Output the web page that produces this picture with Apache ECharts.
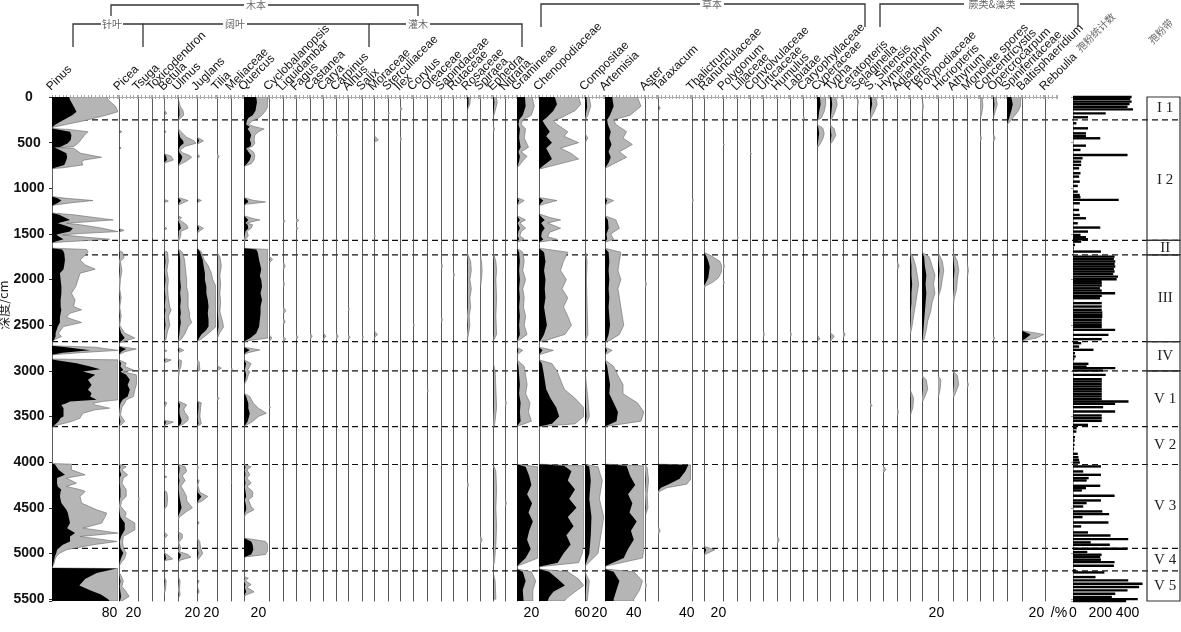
<!DOCTYPE html>
<html><head><meta charset="utf-8">
<script src="https://cdn.jsdelivr.net/npm/echarts/dist/echarts.min.js"></script>
<style>html,body{margin:0;padding:0;background:#fff}#c{width:1181px;height:632px}</style>
</head><body><div id="c"></div>
<script>
// ---------------- DATA ----------------
// each taxon: [depth(cm), percentage (black), exaggerated curve (grey)]
const taxaNames = ['Pinus','Picea','Tsuga','Toxicodendron','Betula','Ulmus','Juglans','Tilia','Meliaceae','Quercus','Cyclobalanopsis','Liquidambar','Fagus','Castanea','Carya','Carpinus','Alnus','Salix','Moraceae','Sterculiaceae','Ilex','Corylus','Oleaceae','Sapindaceae','Rutaceae','Rosaceae','Spiraea','Ephedra','Nitraria','Gramineae','Chenopodiaceae','Compositae','Artemisia','Aster','Taraxacum','Thalictrum','Ranunculaceae','Polygonum','Liliaceae','Convolvulaceae','Urticaceae','Humulus','Labiatae','Caryophyllaceae','Cyperaceae','Typha','Ceratopteris','Selaginella','S. Sinensis','Hymenophyllum','Adiantum','Pteris','Polypodiaceae','Hicriopteris','Athyrium','Monolete spores','Concentricystis','Opercrocarpum','Spiniferitaceae','Baltisphaeridium','Reboulia'];

const pinus = [[0,24,76],[30,25,78],[100,30,88],[161,34,92],[200,28,75],[259,14,45],[300,5,20],[325,1,5],[335,0,0],
[345,0,0],[355,8,22],[380,25,50],[420,27,45],[470,26,40],[507,22,36],[544,12,30],[555,3,8],[562,6,30],[617,20,40],[660,21,69],[690,20,45],[708,19,41],[744,17,43],[775,4,15],[785,0,0],
[1090,0,0],[1110,8,20],[1134,13,57],[1160,8,25],[1182,2,5],[1190,0,0],
[1270,0,0],[1290,10,30],[1346,25,85],[1383,8,20],[1400,15,40],[1437,29,70],[1474,25,92],[1495,12,40],[1510,6,15],[1530,10,40],[1558,16,80],[1585,4,20],[1595,0,0],
[1656,0,0],[1670,14,48],[1693,16,50],[1711,17,49],[1784,18,39],[1839,17,46],[1886,16,60],[1930,11,39],[2003,12,36],[2076,13,33],[2149,13,27],[2222,12,32],[2295,12,30],[2331,13,41],[2368,12,25],[2412,11,20],[2470,11,41],[2514,8,16],[2587,5,9],[2624,5,13],[2660,3,3],[2680,0,0],
[2725,0,0],[2740,20,60],[2775,53,92],[2800,15,40],[2824,0,0],
[2870,0,0],[2879,2,92],[2915,34,92],[2952,53,92],[2981,67,92],[3006,43,92],[3043,60,92],[3098,50,92],[3153,55,92],[3207,50,92],[3244,55,92],[3280,53,92],[3317,62,92],[3335,25,70],[3353,20,57],[3372,13,60],[3408,16,80],[3426,16,60],[3463,16,43],[3499,16,40],[3517,12,39],[3554,9,27],[3590,4,9],[3609,2,2],[3615,0,0],
[4015,0,0],[4021,4,27],[4083,9,27],[4138,18,46],[4174,7,20],[4229,7,34],[4265,8,20],[4302,13,40],[4320,12,46],[4375,11,39],[4448,13,41],[4521,20,62],[4557,22,76],[4594,23,74],[4667,25,69],[4722,21,43],[4776,32,92],[4813,25,39],[4868,25,90],[4904,15,57],[4959,7,20],[4995,6,11],[5032,4,6],[5068,3,4],[5105,2,3],[5141,1,1],[5150,0,0],
[5158,0,0],[5165,90,92],[5214,62,92],[5280,46,92],[5350,38,92],[5400,52,92],[5450,68,92],[5500,78,92],[5520,80,92]];
const picea = [[0,0,0],[360,0,0],[380,1,4],[400,0,0],[540,0,0],[560,1,3],[580,0,0],[1440,0,0],[1460,2,7],[1480,0,0],[1680,0,0],[1700,1,5],[1760,1,7],[1800,0,2],[1900,1,4],[2000,0,2],[2100,0,1],[2200,1,3],[2300,0,1],[2400,1,3],[2500,0,1],[2586,3,8],[2640,8,22],[2680,2,5],[2700,0,0],
[2730,0,0],[2760,10,24],[2790,3,8],[2822,0,0],[2879,0,0],[2915,3,10],[2952,2,8],[2990,6,20],[3010,2,6],[3043,10,24],[3098,15,25],[3153,12,24],[3207,15,22],[3280,12,20],[3317,5,10],[3353,2,8],[3400,1,4],[3480,0,2],[3554,2,8],[3590,1,3],[3609,0,0],
[4021,0,0],[4050,2,10],[4083,1,4],[4138,3,12],[4174,1,6],[4229,1,4],[4300,2,10],[4375,2,10],[4420,1,4],[4480,0,2],[4557,1,10],[4600,2,8],[4667,8,22],[4740,8,22],[4812,3,6],[4868,1,5],[4940,2,6],[4995,6,10],[5050,3,8],[5100,1,3],[5141,0,0],[5200,0,0],[5260,1,4],[5300,2,6],[5360,1,4],[5420,2,10],[5470,3,14],[5500,2,8],[5520,1,4]];
const tsuga = [[0,0,0],[2960,0,0],[2980,0,2],[3000,0,0],[4380,0,0],[4400,0,2],[4420,0,0]];
const toxicodendron = [[0,0,0],[1500,0,0],[1520,0,1],[1540,0,0]];
const betula = [[0,0,0],[150,0,1],[179,1,4],[200,0,0],[360,0,0],[380,1,3],[400,0,0],[620,0,0],[650,3,10],[690,4,13],[720,0,2],[740,0,0],[1120,0,0],[1140,1,6],[1160,0,0],[1420,0,0],[1440,1,4],[1460,0,0],[1680,0,0],[1700,1,5],[1800,2,6],[1900,1,4],[2000,2,6],[2100,1,5],[2200,2,6],[2300,1,8],[2330,2,10],[2400,1,6],[2500,2,8],[2560,1,5],[2650,1,3],[2680,0,0],[2760,0,0],[2780,1,4],[2800,0,0],[2860,0,0],[2880,2,10],[2910,0,1],[2950,0,0],[3330,0,0],[3350,1,4],[3400,0,1],[3540,0,0],[3560,3,13],[3590,1,3],[3609,0,0],[4140,0,0],[4160,1,4],[4180,0,0],[4300,0,0],[4330,1,4],[4400,1,5],[4480,1,4],[4520,0,0],[4760,0,0],[4800,1,5],[4840,0,0],[4990,0,0],[5020,2,6],[5060,3,12],[5080,0,0],[5250,0,0],[5300,1,3],[5400,0,2],[5450,0,0]];
const ulmus = [[0,0,0],[100,1,3],[150,2,7],[200,2,8],[230,1,4],[260,0,0],[340,0,0],[380,1,4],[440,3,12],[480,7,22],[507,8,26],[540,3,10],[580,1,3],[610,2,6],[640,5,16],[660,6,19],[700,4,12],[740,1,3],[760,0,0],[1100,0,0],[1134,4,14],[1170,1,4],[1190,0,0],[1300,0,0],[1320,1,5],[1346,0,2],[1400,3,12],[1437,4,14],[1470,1,4],[1510,1,4],[1560,0,2],[1590,0,0],[1660,0,0],[1700,2,6],[1780,3,9],[1850,3,10],[1930,3,11],[2000,3,12],[2080,4,12],[2149,3,14],[2222,4,14],[2295,3,14],[2368,4,16],[2412,3,16],[2470,4,19],[2514,3,14],[2587,2,10],[2650,1,5],[2680,0,0],[2740,0,0],[2775,2,8],[2800,0,1],[2824,0,0],[2870,0,0],[2890,1,5],[2950,1,4],[3000,0,2],[3050,0,1],[3100,0,0],[3330,0,0],[3370,3,12],[3420,2,8],[3460,2,10],[3500,3,14],[3540,5,14],[3580,4,8],[3609,0,0],[4021,0,0],[4050,2,10],[4100,2,12],[4150,1,6],[4200,2,10],[4260,1,4],[4300,1,7],[4375,2,12],[4420,3,12],[4460,4,16],[4500,5,20],[4540,3,12],[4600,0,2],[4640,0,0],[4760,0,0],[4790,1,6],[4830,1,6],[4880,0,1],[4940,1,4],[4980,0,2],[5010,4,14],[5040,3,18],[5070,1,4],[5100,0,0],[5250,0,0],[5300,1,3],[5400,0,2],[5450,1,3],[5500,0,0]];
const juglans = [[0,0,0],[440,0,0],[480,3,9],[520,0,0],[620,0,0],[650,1,4],[680,0,0],[1110,0,0],[1134,2,6],[1160,0,0],[1400,0,0],[1437,3,9],[1470,1,3],[1500,0,0],[1656,0,0],[1693,4,6],[1784,8,10],[1839,9,15],[1930,11,20],[2003,11,22],[2076,13,27],[2149,13,29],[2222,15,27],[2295,16,32],[2368,15,29],[2440,16,27],[2514,16,32],[2560,12,20],[2600,6,14],[2640,3,8],[2680,0,0],[2880,0,0],[2900,0,3],[2990,1,4],[3020,0,0],[3330,0,0],[3350,2,6],[3400,2,5],[3500,1,4],[3580,2,6],[3609,0,0],[4021,0,0],[4060,0,2],[4100,0,0],[4180,0,0],[4200,1,3],[4250,0,1],[4330,1,4],[4375,6,15],[4420,2,8],[4450,0,0],[4640,0,0],[4660,1,3],[4700,0,0],[4830,0,0],[4870,1,4],[4940,1,5],[5000,2,8],[5040,1,4],[5080,0,0],[5280,0,0],[5300,1,3],[5350,0,0],[5420,1,3],[5460,0,0]];
const tilia = [[0,0,0],[620,0,0],[650,0,3],[690,0,0],[1700,0,0],[1750,1,4],[1850,1,6],[1950,1,4],[2050,1,5],[2150,1,4],[2250,1,5],[2350,1,4],[2470,2,8],[2520,2,9],[2580,1,4],[2650,0,0],[2940,0,0],[2970,1,6],[3000,0,0],[3280,0,0],[3300,0,3],[3330,0,0]];
const meliaceae = [[0,0,0],[2960,0,0],[2980,0,2],[3000,0,0],[4200,0,0],[4220,0,1],[4240,0,0]];
const quercus = [[0,17,35],[60,18,35],[100,17,35],[150,16,30],[200,12,25],[230,6,20],[260,4,12],[300,3,6],[325,8,15],[350,5,28],[380,8,20],[420,10,15],[470,8,14],[507,10,15],[540,9,12],[560,3,5],[600,6,13],[640,10,15],[690,8,14],[730,4,10],[760,0,0],[1100,0,0],[1130,5,12],[1150,6,30],[1175,1,3],[1190,0,0],[1300,0,0],[1330,4,12],[1346,6,22],[1380,2,4],[1400,5,12],[1437,6,10],[1470,2,4],[1520,1,6],[1560,0,2],[1590,0,0],[1656,0,0],[1670,17,35],[1700,19,35],[1784,21,35],[1886,24,35],[1960,22,35],[2003,24,35],[2076,25,35],[2149,23,35],[2222,25,35],[2295,23,35],[2368,23,35],[2440,22,35],[2514,21,35],[2587,17,35],[2640,9,38],[2665,3,10],[2680,0,0],[2740,0,0],[2770,8,22],[2800,2,6],[2824,0,0],[2879,0,0],[2920,3,10],[2990,1,5],[3010,2,8],[3043,3,6],[3098,2,4],[3150,0,0],[3244,0,0],[3280,3,8],[3353,6,13],[3408,6,20],[3463,8,31],[3499,7,20],[3554,5,12],[3590,2,4],[3609,0,0],[4021,0,0],[4050,2,10],[4083,1,4],[4138,2,8],[4174,1,4],[4229,2,10],[4265,1,4],[4320,2,12],[4375,3,12],[4410,1,6],[4448,2,8],[4485,3,10],[4521,3,14],[4560,1,4],[4600,0,0],[4830,0,0],[4868,10,30],[4904,12,35],[4959,13,35],[5010,10,30],[5040,0,0],[5250,0,0],[5270,1,6],[5300,0,2],[5340,2,10],[5370,1,4],[5420,3,14],[5450,1,4],[5470,0,0]];
const cyclobalanopsis = [[0,0,0],[1740,0,0],[1780,1,5],[1820,0,0],[2600,0,0],[2640,1,4],[2680,0,0],[3370,0,0],[3400,0,2],[3420,0,0]];
const liquidambar = [[0,0,0],[1346,0,0],[1360,0,3],[1380,0,0],[1800,0,0],[1850,0,3],[1900,0,0],[2000,0,0],[2050,0,2],[2100,0,0],[2300,0,0],[2340,0,4],[2380,0,0],[2420,0,0],[2460,0,3],[2500,0,0],[2620,0,0],[2650,0,4],[2680,0,0]];
const fagus = [[0,0,0],[1330,0,0],[1350,0,4],[1380,0,0],[1420,0,0],[1440,0,3],[1460,0,0],[2600,0,0],[2630,0,3],[2660,0,0]];
const castanea = [[0,0,0],[2580,0,0],[2620,0,3],[2660,0,0]];
const carya = [[0,0,0],[2580,0,0],[2620,1,4],[2660,0,0]];
const carpinus = [[0,0,0],[400,0,0],[420,0,2],[440,0,0],[2580,0,0],[2620,0,3],[2660,0,0]];
const alnus = [[0,0,0],[2300,0,0],[2320,0,2],[2340,0,0],[2600,0,0],[2630,0,3],[2660,0,0]];
const salix = [[0,0,0],[2600,0,0],[2630,0,2],[2660,0,0]];
const moraceae = [[0,0,0],[420,0,0],[470,1,6],[500,0,0],[1500,0,0],[1520,0,2],[1540,0,0],[2560,0,0],[2600,1,5],[2640,0,0]];
const sterculiaceae = [[0,0,0],[150,0,0],[180,0,2],[200,0,0]];
const ilex = [[0,0,0],[100,0,0],[130,0,3],[160,0,0],[420,0,0],[460,0,2],[500,0,0]];
const corylus = [[0,0,0],[2480,0,0],[2500,0,2],[2520,0,0]];
const oleaceae = [[0,0,0],[3200,0,0],[3220,0,2],[3240,0,0]];
const sapindaceae = [[0,0,0],[1800,0,0],[1850,0,2],[1900,0,0],[2400,0,0],[2440,0,2],[2480,0,0]];
const rutaceae = [[0,0,0],[1900,0,0],[1950,0,2],[2000,0,0]];
const rosaceae = [[0,2,5],[80,2,4],[150,0,0],[1700,0,0],[1800,1,5],[1900,1,6],[2000,1,4],[2100,1,6],[2200,1,4],[2300,1,5],[2400,0,3],[2500,1,4],[2600,0,2],[2680,0,0],[4200,0,0],[4250,0,2],[4300,0,0]];
const spiraea = [[0,0,0],[1700,0,0],[1800,0,2],[1900,0,3],[2000,0,2],[2100,0,0],[4800,0,0],[4850,0,3],[4900,0,0]];
const ephedra = [[0,1,4],[60,2,6],[150,1,3],[230,0,0],[300,0,0],[350,0,2],[400,0,0],[1700,0,0],[1800,1,4],[1900,1,5],[2000,1,4],[2200,1,5],[2400,1,4],[2600,1,5],[2680,0,0],[2900,0,0],[3000,1,3],[3200,1,4],[3400,1,5],[3600,0,2],[3609,0,0],[4021,0,0],[4100,1,4],[4300,1,5],[4500,1,4],[4700,1,5],[4900,1,4],[5100,0,2],[5140,0,0],[5200,0,0],[5300,1,3],[5500,1,4]];
const nitraria = [[0,0,0],[3300,0,0],[3350,0,2],[3400,0,0],[4400,0,0],[4450,0,2],[4500,0,0]];
const gramineae = [[0,11,21],[100,12,24],[200,8,20],[250,3,8],[300,2,6],[350,4,12],[450,3,10],[550,5,16],[600,2,6],[650,4,14],[700,3,8],[780,0,0],[1100,0,0],[1134,3,10],[1170,1,3],[1190,0,0],[1300,0,0],[1346,4,12],[1380,1,4],[1437,4,12],[1470,2,6],[1520,1,4],[1558,3,10],[1590,0,0],[1656,0,0],[1700,3,8],[1800,4,10],[1900,3,8],[2000,4,12],[2100,3,8],[2200,4,10],[2300,3,9],[2400,4,12],[2500,3,10],[2600,4,14],[2680,0,0],[2740,0,0],[2775,2,8],[2824,0,0],[2879,0,0],[2950,2,10],[3050,3,12],[3150,4,14],[3250,3,12],[3350,5,18],[3450,4,16],[3550,5,20],[3609,0,0],[4021,0,0],[4050,12,29],[4150,17,29],[4250,20,29],[4350,14,29],[4450,21,29],[4550,16,29],[4650,22,29],[4750,17,29],[4850,14,29],[4950,19,29],[5050,12,29],[5140,0,0],[5170,0,0],[5200,8,20],[5300,12,26],[5400,8,22],[5500,9,22],[5520,9,22]];
const chenopodiaceae = [[0,22,55],[80,25,58],[150,20,50],[230,10,30],[260,5,20],[300,8,25],[380,15,40],[430,10,35],[500,18,55],[560,10,30],[620,14,45],[680,18,55],[740,8,25],[790,0,0],[1100,0,0],[1134,6,25],[1170,2,8],[1190,0,0],[1280,0,0],[1320,4,15],[1346,8,30],[1380,3,12],[1437,8,30],[1480,4,15],[1530,3,12],[1560,6,25],[1590,0,0],[1656,0,0],[1700,7,40],[1800,9,34],[1900,7,30],[2000,9,38],[2100,8,32],[2200,9,40],[2300,7,34],[2400,9,40],[2500,11,45],[2600,7,36],[2670,2,8],[2680,0,0],[2740,0,0],[2775,5,20],[2824,0,0],[2879,0,0],[2920,4,18],[3000,6,25],[3100,8,30],[3200,10,35],[3300,16,50],[3400,24,62],[3500,28,62],[3580,18,50],[3609,0,0],[4021,0,0],[4040,35,62],[4100,45,62],[4200,40,62],[4300,50,62],[4400,42,62],[4500,52,62],[4600,40,62],[4700,48,62],[4800,38,62],[4900,44,62],[5000,34,60],[5100,26,55],[5145,0,0],[5170,0,0],[5200,14,40],[5280,26,55],[5350,36,62],[5420,20,50],[5480,14,40],[5520,12,35]];
const compositae = [[0,2,6],[100,3,8],[200,1,4],[260,0,0],[400,0,0],[450,1,4],[500,0,0],[1656,0,0],[1800,1,3],[2000,1,2],[2600,1,4],[2680,0,0],[3000,0,0],[3300,1,4],[3500,2,6],[3609,0,0],[4021,0,0],[4050,6,18],[4200,8,24],[4400,6,20],[4600,9,26],[4800,8,22],[5000,6,18],[5140,0,0],[5200,0,0],[5300,2,6],[5450,1,4],[5520,1,3]];
const artemisia = [[0,10,45],[100,12,50],[200,7,35],[250,3,12],[300,4,15],[380,8,30],[450,6,25],[520,9,38],[600,5,20],[660,8,30],[720,5,15],[780,0,0],[1100,0,0],[1134,3,12],[1170,1,3],[1190,0,0],[1300,0,0],[1346,4,15],[1437,5,20],[1500,2,8],[1558,3,12],[1590,0,0],[1656,0,0],[1700,5,22],[1800,6,20],[1900,5,18],[2000,6,22],[2100,5,18],[2200,6,20],[2300,5,22],[2400,6,24],[2500,7,26],[2600,5,20],[2670,2,6],[2680,0,0],[2740,0,0],[2775,3,10],[2824,0,0],[2879,0,0],[2950,3,12],[3050,5,18],[3150,7,25],[3250,6,25],[3350,12,45],[3450,18,54],[3550,16,50],[3609,0,0],[4021,0,0],[4040,30,54],[4150,35,54],[4250,42,54],[4350,32,54],[4450,38,54],[4550,34,54],[4650,44,54],[4750,36,54],[4850,40,54],[4950,32,54],[5050,26,52],[5140,0,0],[5170,0,0],[5200,12,40],[5300,20,52],[5400,16,48],[5500,12,40],[5520,12,40]];
const aster = [[0,0,0],[2000,0,0],[2050,0,2],[2100,0,0],[4021,0,0],[4060,0,3],[4200,1,5],[4350,0,3],[4500,1,4],[4600,0,0],[5300,0,0],[5350,0,2],[5400,0,0]];
const taraxacum = [[0,0,0],[80,0,0],[120,1,3],[160,0,0],[4021,0,0],[4030,42,46],[4100,38,46],[4180,30,46],[4240,15,40],[4280,4,12],[4320,0,2],[4350,0,0],[4700,0,0],[4750,0,3],[4800,0,0]];
const thalictrum = [[0,0,0],[1100,0,0],[1130,0,2],[1160,0,0],[4900,0,0],[4950,0,2],[5000,0,0]];
const ranunculaceae = [[0,0,0],[1700,0,0],[1740,3,10],[1800,6,22],[1860,8,25],[1920,7,24],[1980,6,20],[2030,3,12],[2070,0,2],[2100,0,0],[4920,0,0],[4960,3,15],[5000,1,4],[5020,0,0]];
const polygonum = [[0,0,0],[500,0,0],[520,0,2],[540,0,0],[1800,0,0],[1850,0,2],[1900,0,0],[2000,0,0],[2030,0,2],[2060,0,0]];
const liliaceae = [[0,0,0],[1520,0,0],[1540,0,2],[1560,0,0]];
const convolvulaceae = [[0,0,0],[600,0,0],[620,0,2],[640,0,0]];
const urticaceae = [[0,0,0],[2560,0,0],[2600,0,2],[2640,0,0]];
const humulus = [[0,0,0],[4800,0,0],[4850,0,3],[4900,0,0]];
const labiatae = [[0,0,0],[2560,0,0],[2600,0,2],[2640,0,0]];
const caryophyllaceae = [[0,0,0],[200,0,0],[230,0,2],[260,0,0]];
const cyperaceae = [[0,4,12],[80,5,12],[160,3,10],[230,2,6],[260,0,0],[300,0,0],[340,2,8],[400,3,10],[460,2,8],[520,1,4],[560,0,0],[2600,0,0],[2650,1,4],[2680,0,0]];
const typha = [[0,2,8],[80,3,10],[160,2,7],[230,1,3],[260,0,0],[300,0,0],[350,1,6],[420,2,8],[480,1,4],[520,0,0],[2580,0,0],[2620,1,6],[2680,0,0]];
const ceratopteris = [[0,0,0],[2560,0,0],[2600,0,3],[2640,0,0]];
const selaginella = [[0,0,0],[50,0,2],[150,0,0]];
const sSinensis = [[0,2,8],[80,3,10],[160,1,6],[250,0,0],[3350,0,0],[3380,0,3],[3400,0,0]];
const hymenophyllum = [[0,0,0],[4040,0,0],[4080,0,4],[4120,0,0]];
const adiantum = [[0,0,0],[1800,0,0],[1850,0,3],[1900,0,0],[3400,0,0],[3450,0,2],[3500,0,0]];
const pteris = [[0,0,0],[1700,0,0],[1750,1,4],[1850,2,8],[1950,2,10],[2050,3,12],[2150,2,10],[2250,2,8],[2350,1,6],[2450,1,4],[2550,0,2],[2600,0,0],[3200,0,0],[3300,1,5],[3400,1,4],[3500,0,0]];
const polypodiaceae = [[0,0,0],[100,0,2],[200,0,0],[1700,0,0],[1750,3,10],[1850,4,14],[1950,6,18],[2050,5,16],[2150,6,18],[2250,5,14],[2350,4,12],[2450,3,8],[2550,2,6],[2650,1,3],[2680,0,0],[3050,0,0],[3100,1,6],[3200,1,8],[3300,0,3],[3350,0,0]];
const hicriopteris = [[0,0,0],[1700,0,0],[1800,1,6],[1900,2,8],[2000,1,6],[2100,1,4],[2200,0,0],[3050,0,0],[3100,0,4],[3200,0,3],[3300,0,0]];
const athyrium = [[0,0,0],[1700,0,0],[1800,1,6],[1900,2,8],[2000,1,6],[2100,1,5],[2200,0,2],[2300,0,0],[3000,0,0],[3050,1,6],[3150,1,8],[3250,0,3],[3300,0,0]];
const monolete = [[0,0,0],[1800,0,0],[1900,0,2],[2000,0,0],[3100,0,0],[3150,0,2],[3200,0,0]];
const concentricystis = [[0,0,3],[100,0,4],[200,0,2],[250,0,0],[400,0,0],[450,0,2],[500,0,0]];
const opercrocarpum = [[0,1,4],[80,2,6],[160,1,3],[250,0,0],[400,0,0],[450,0,3],[500,0,0],[2600,0,0],[2640,0,2],[2680,0,0]];
const spiniferitaceae = [[0,6,20],[80,8,20],[150,6,16],[230,3,8],[280,1,3],[300,0,0]];
const baltisphaeridium = [[0,0,0],[2560,0,0],[2600,12,32],[2640,6,20],[2670,0,0]];
const reboulia = [[0,0,0],[5520,0,0]];

const taxaData = [pinus,picea,tsuga,toxicodendron,betula,ulmus,juglans,tilia,meliaceae,quercus,cyclobalanopsis,liquidambar,fagus,castanea,carya,carpinus,alnus,salix,moraceae,sterculiaceae,ilex,corylus,oleaceae,sapindaceae,rutaceae,rosaceae,spiraea,ephedra,nitraria,gramineae,chenopodiaceae,compositae,artemisia,aster,taraxacum,thalictrum,ranunculaceae,polygonum,liliaceae,convolvulaceae,urticaceae,humulus,labiatae,caryophyllaceae,cyperaceae,typha,ceratopteris,selaginella,sSinensis,hymenophyllum,adiantum,pteris,polypodiaceae,hicriopteris,athyrium,monolete,concentricystis,opercrocarpum,spiniferitaceae,baltisphaeridium,reboulia];

// scale tick label shown under a column
const scaleLabels = {Pinus:80, Picea:20, Ulmus:20, Juglans:20, Quercus:20, Gramineae:20, Chenopodiaceae:60, Compositae:20, Artemisia:40, Taraxacum:40, Ranunculaceae:20, Polypodiaceae:20, Spiniferitaceae:20, Baltisphaeridium:20};

// pollen counts
const countDepths = [0,22,51,77,106,135,179,222,288,343,398,427,452,533,580,635,671,708,744,781,835,872,927,974,1036,1073,1098,1127,1164,1237,1292,1328,1383,1430,1474,1511,1536,1558,1584,1620,1656,1693,1748,1775,1802,1830,1857,1884,1912,1939,1967,1996,2018,2040,2065,2095,2120,2149,2178,2204,2258,2295,2331,2360,2386,2412,2441,2470,2495,2521,2550,2605,2652,2696,2733,2769,2806,2842,2871,2922,2952,2970,2996,3043,3091,3116,3145,3171,3200,3225,3255,3280,3309,3335,3360,3397,3445,3488,3518,3547,3591,3627,3664,3726,3762,3810,3853,3908,3945,3974,4003,4046,4101,4138,4174,4200,4258,4284,4309,4368,4419,4448,4485,4539,4568,4601,4660,4703,4769,4802,4842,4878,4904,4947,4984,5013,5039,5068,5094,5134,5185,5207,5258,5294,5331,5367,5404,5440,5477,5499,5520];
const countValues = [430,420,430,415,400,440,240,110,25,110,95,95,200,95,55,400,70,60,60,45,55,45,50,35,35,50,55,335,50,45,50,95,35,200,110,55,95,110,60,15,5,205,305,300,310,305,310,300,305,295,330,320,210,211,211,198,211,309,211,198,211,211,211,215,215,215,211,211,211,211,309,260,211,60,45,150,15,20,10,113,100,310,220,240,211,211,211,211,211,211,211,211,211,407,309,221,309,211,211,211,110,27,25,15,12,12,8,35,40,45,50,205,75,205,115,100,200,95,65,305,205,100,75,215,265,70,260,60,110,275,405,130,270,400,105,210,200,205,305,300,20,230,165,405,510,485,400,310,285,475,390];

// zones
const zoneNames = ['I 1','I 2','II','III','IV','V 1','V 2','V 3','V 4','V 5'];
const zoneTops = [0,250,1570,1730,2680,3000,3610,4025,4943,5190];
const zoneBottoms = [250,1570,1730,2680,3000,3610,4025,4943,5190,5520];
const mainZoneTops = [0,1570,1730,2680,3000];
const mainZoneBottoms = [1570,1730,2680,3000,5520];
const depthTicks = [0,500,1000,1500,2000,2500,3000,3500,4000,4500,5000,5500];

// ---------------- LAYOUT ----------------
const DMAX = 5520, TOP = 97, BOTTOM = 31, PX_PER_PCT = 0.72;
const colLeft = [52,119,138,152,164,178,197,217,231,244,269,283,296,310,323,336,348,362,374,388,400,413,427,441,453,467,480,493,505,517,539,585,605,645,658,692,704,723,737,750,763,777,790,803,817,830,843,857,870,883,897,910,922,938,953,967,980,993,1007,1022,1045];
const lastRight = 1058;
const FONT = 'Liberation Sans, Arial, sans-serif';
const CJK = 'Noto Sans CJK SC, sans-serif';

const grids = [], xAxes = [], yAxes = [], series = [];

function areaSeries(i, arr, k, fill, stroke, xmax, z) {
  return {
    type: 'custom', xAxisIndex: 2 * i, yAxisIndex: i, clip: true, z: z, silent: true,
    data: arr.map(p => [p[k], p[0]]),
    renderItem: function (params, api) {
      if (params.dataIndex !== 0) return null;
      const pts = [api.coord([0, arr[0][0]])];
      arr.forEach(p => pts.push(api.coord([Math.min(p[k], xmax), p[0]])));
      pts.push(api.coord([0, arr[arr.length - 1][0]]));
      const style = stroke ? {fill: fill, stroke: stroke, lineWidth: 0.6} : {fill: fill};
      return {type: 'polygon', shape: {points: pts}, style: style};
    }
  };
}

taxaNames.forEach((name, i) => {
  const left = colLeft[i];
  const right = i < colLeft.length - 1 ? colLeft[i + 1] : lastRight;
  const w = right - left - 1;
  const xmax = w / PX_PER_PCT;
  const lab = scaleLabels[name];
  grids.push({left: left, width: w, top: TOP, bottom: BOTTOM});
  xAxes.push({gridIndex: i, type: 'value', position: 'bottom', min: 0, max: xmax, interval: 5,
    axisLine: {show: true, lineStyle: {color: '#aaa', width: 1}},
    axisTick: {show: true, inside: true, length: 2, lineStyle: {color: '#aaa'}},
    splitLine: {show: false},
    axisLabel: {show: lab !== undefined, margin: 5, fontSize: 14, color: '#000', fontFamily: FONT,
      formatter: v => (v === lab ? String(lab) : '')}});
  xAxes.push({gridIndex: i, type: 'value', position: 'top', min: 0, max: xmax, interval: 5,
    axisLine: {show: true, lineStyle: {color: '#aaa', width: 1}},
    axisTick: {show: true, inside: true, length: 2, lineStyle: {color: '#aaa'}},
    splitLine: {show: false}, axisLabel: {show: false}});
  const ya = {gridIndex: i, type: 'value', inverse: true, min: 0, max: DMAX, interval: 500,
    axisLine: {show: true, lineStyle: {color: '#555', width: 1}},
    axisTick: {show: false}, splitLine: {show: false}, axisLabel: {show: false}};
  if (i === 0) {
    ya.axisTick = {show: true, length: 3, lineStyle: {color: '#333'}};
    ya.axisLabel = {show: true, fontSize: 14, fontWeight: 'bold', color: '#111', fontFamily: FONT, align: 'center', margin: 23,
      formatter: v => (depthTicks.indexOf(v) >= 0 ? String(v) : '')};
  }
  yAxes.push(ya);
  const arr = taxaData[i];
  series.push(areaSeries(i, arr, 2, '#b5b5b5', '#6a6a6a', xmax, 3));
  series.push(areaSeries(i, arr, 1, '#000000', null, xmax, 4));
});

// pollen count column
const gi = taxaNames.length;
grids.push({left: 1073, width: 75, top: TOP, bottom: BOTTOM});
xAxes.push({gridIndex: gi, type: 'value', position: 'bottom', min: 0, max: 550, interval: 200,
  axisLine: {show: false}, axisTick: {show: false}, splitLine: {show: false},
  axisLabel: {show: true, margin: 5, fontSize: 14, color: '#000', fontFamily: FONT, formatter: v => (v % 200 === 0 ? String(v) : '')}});
yAxes.push({gridIndex: gi, type: 'value', inverse: true, min: 0, max: DMAX, interval: 500,
  axisLine: {show: true, lineStyle: {color: '#999', width: 1}},
  axisTick: {show: true, length: 2, lineStyle: {color: '#999'}}, splitLine: {show: false}, axisLabel: {show: false}});
series.push({type: 'custom', xAxisIndex: 2 * gi, yAxisIndex: gi, z: 4, silent: true,
  data: countDepths.map((d, k) => [countValues[k], d]),
  renderItem: function (params, api) {
    const p0 = api.coord([0, api.value(1)]);
    const p1 = api.coord([api.value(0), api.value(1)]);
    return {type: 'rect', shape: {x: p0[0], y: p0[1] - 1.2, width: p1[0] - p0[0], height: 2.4}, style: {fill: '#000'}};
  }});

// zone column
const zi = gi + 1;
grids.push({left: 1147, width: 33, top: TOP, bottom: BOTTOM});
xAxes.push({gridIndex: zi, type: 'value', min: 0, max: 1, show: false});
yAxes.push({gridIndex: zi, type: 'value', inverse: true, min: 0, max: DMAX, show: false});
series.push({type: 'custom', xAxisIndex: 2 * gi + 1, yAxisIndex: zi, z: 5, silent: true,
  data: mainZoneTops.map((t, k) => [t, mainZoneBottoms[k]]),
  renderItem: function (params, api) {
    const a = api.coord([0, api.value(0)]);
    const b = api.coord([1, api.value(1)]);
    return {type: 'rect', shape: {x: a[0], y: a[1], width: b[0] - a[0], height: b[1] - a[1]},
      style: {fill: 'none', stroke: '#333', lineWidth: 1.2}};
  }});
series.push({type: 'custom', xAxisIndex: 2 * gi + 1, yAxisIndex: zi, z: 5, silent: true,
  data: zoneNames.map((n, k) => [zoneTops[k], zoneBottoms[k]]),
  renderItem: function (params, api) {
    const c = api.coord([0.55, (api.value(0) + api.value(1)) / 2]);
    return {type: 'text', x: c[0], y: c[1],
      style: {text: zoneNames[params.dataIndex], fill: '#222', font: '15px Liberation Serif, serif', textAlign: 'center', textVerticalAlign: 'middle'}};
  }});

// dashed zone boundaries across the diagram
const oi = zi + 1;
grids.push({left: 52, width: 1129, top: TOP, bottom: BOTTOM});
xAxes.push({gridIndex: oi, type: 'value', min: 0, max: 1, show: false});
yAxes.push({gridIndex: oi, type: 'value', inverse: true, min: 0, max: DMAX, show: false});
series.push({type: 'custom', xAxisIndex: 2 * gi + 2, yAxisIndex: oi, z: 1, silent: true,
  data: zoneBottoms.slice(0, -1).map(d => [0, d]),
  renderItem: function (params, api) {
    const a = api.coord([0, api.value(1)]);
    const b = api.coord([1, api.value(1)]);
    return {type: 'line', shape: {x1: a[0], y1: a[1], x2: b[0], y2: b[1]},
      style: {stroke: '#111', lineWidth: 1.2, lineDash: [6, 4]}};
  }});

// ---------------- TEXT / BRACKETS ----------------
const graphics = [];
taxaNames.forEach((name, i) => {
  graphics.push({type: 'text', x: colLeft[i] + 1, y: 93, rotation: Math.PI / 4, silent: true,
    style: {text: name, fill: '#111', font: '12px ' + FONT, textAlign: 'left', textVerticalAlign: 'bottom'}});
});
function seg(pts) { graphics.push({type: 'polyline', silent: true, shape: {points: pts}, style: {stroke: '#333', lineWidth: 1.3, fill: null}}); }
function label(t, x, y, rot, align) {
  graphics.push({type: 'text', x: x, y: y, rotation: rot || 0, silent: true,
    style: {text: t, fill: '#666', font: '10px ' + CJK, textAlign: align || 'center', textVerticalAlign: 'middle'}});
}
seg([[111, 16], [111, 5], [244, 5]]); seg([[268, 5], [418, 5], [418, 16]]); label('木本', 256, 5);
seg([[73, 47], [73, 24], [101, 24]]); seg([[123, 24], [143, 24], [143, 47]]); label('针叶', 112, 24);
seg([[143, 24], [223, 24]]); seg([[247, 24], [369, 24], [369, 47]]); label('阔叶', 235, 24);
seg([[369, 24], [406, 24]]); seg([[430, 24], [522, 24], [522, 47]]); label('灌木', 418, 24);
seg([[541, 27], [541, 4], [700, 4]]); seg([[724, 4], [865, 4], [865, 27]]); label('草本', 712, 4);
seg([[880, 27], [880, 4], [964, 4]]); seg([[1020, 4], [1078, 4], [1078, 27]]); label('蕨类&藻类', 992, 4);
label('孢粉统计数', 1078, 50, Math.PI / 4, 'left');
label('孢粉带', 1150, 42, Math.PI / 4, 'left');
graphics.push({type: 'text', x: 1059, y: 613, silent: true, style: {text: '/%', fill: '#000', font: '14px ' + FONT, textAlign: 'center', textVerticalAlign: 'middle'}});
graphics.push({type: 'text', x: 3, y: 305, rotation: Math.PI / 2, silent: true, style: {text: '深度/cm', fill: '#222', font: '13px ' + CJK, textAlign: 'center', textVerticalAlign: 'middle'}});

const chart = echarts.init(document.getElementById('c'), null, {renderer: 'canvas'});
chart.setOption({
  animation: false, backgroundColor: '#fff',
  grid: grids, xAxis: xAxes, yAxis: yAxes, series: series, graphic: graphics
});
</script>
</body></html>
